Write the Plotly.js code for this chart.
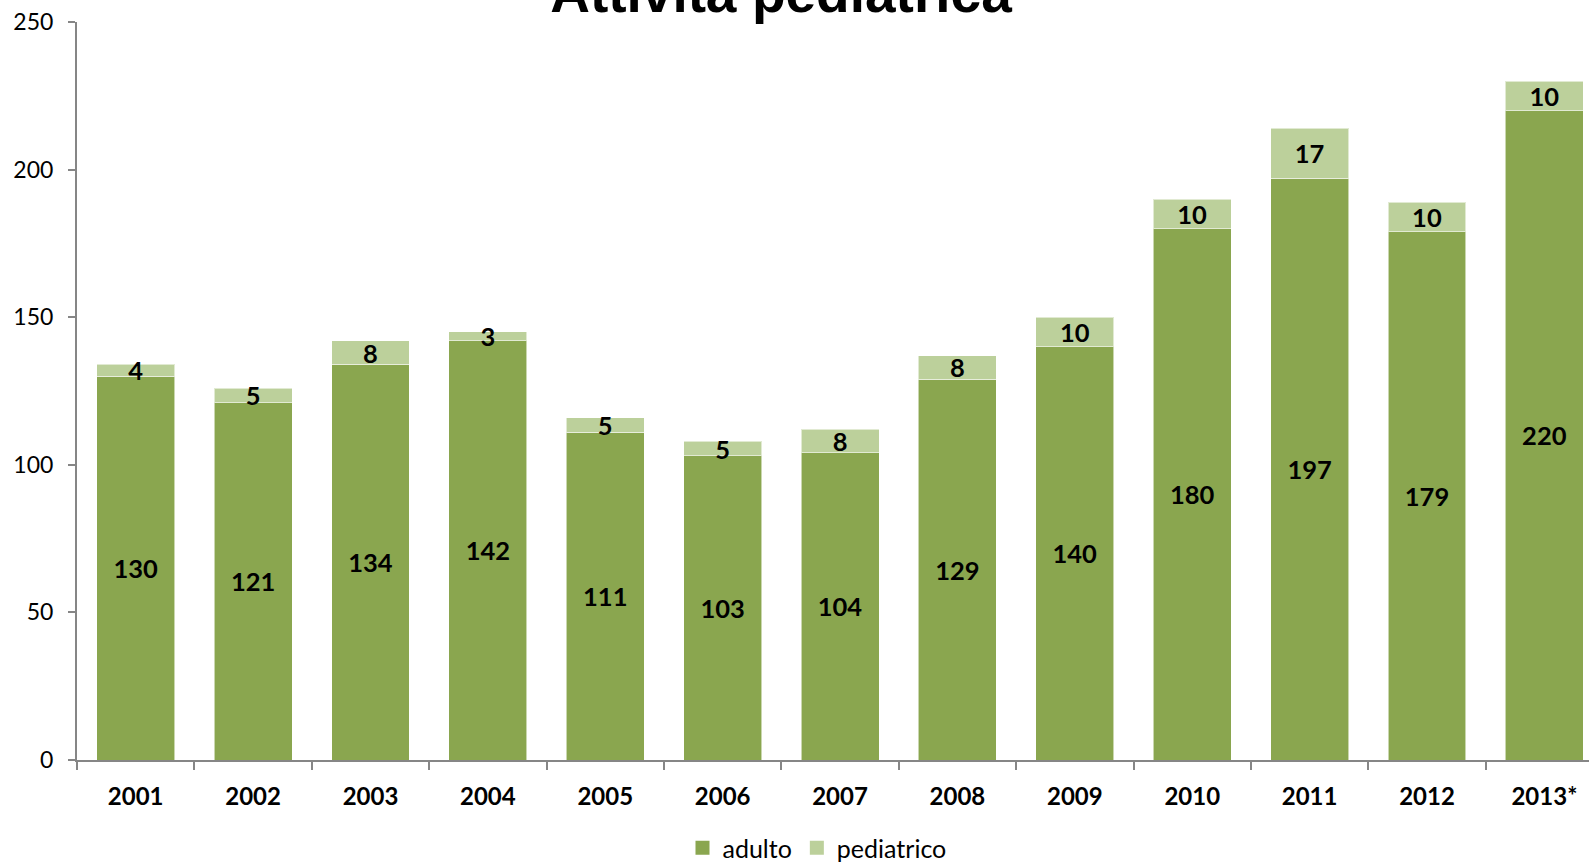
<!DOCTYPE html>
<html>
<head>
<meta charset="utf-8">
<script src="https://cdn.plot.ly/plotly-3.0.1.min.js"></script>
<style>html,body{margin:0;padding:0;background:#fff;overflow:hidden;}#chart{width:1589px;height:863px;}</style>
</head>
<body>
<div id="chart"></div>
<script>
const years = ["2001","2002","2003","2004","2005","2006","2007","2008","2009","2010","2011","2012","2013*"];
const adulto = [130,121,134,142,111,103,104,129,140,180,197,179,220];
const pediatrico = [4,5,8,3,5,5,8,8,10,10,17,10,10];
const yTicks = [0,50,100,150,200,250];
const seriesNames = ['adulto', 'pediatrico'];
const seriesColors = ['#8AA64F', '#BCD09B'];

const common = {
  type: 'bar',
  x: years,
  textposition: 'inside',
  insidetextanchor: 'middle',
  textangle: 0,
  constraintext: 'none',
  textfont: {family: 'Lato, "Open Sans", sans-serif', size: 25.5, color: '#000', weight: 'bold'},
  hoverinfo: 'skip',
  showlegend: false
};

const traces = [
  Object.assign({}, common, {
    name: seriesNames[0], y: adulto, text: adulto.map(String),
    marker: {color: seriesColors[0], line: {color: 'rgba(255,255,255,0.55)', width: 1}}
  }),
  Object.assign({}, common, {
    name: seriesNames[1], y: pediatrico, text: pediatrico.map(String),
    marker: {color: seriesColors[1], line: {color: 'rgba(255,255,255,0.55)', width: 1}}
  })
];
// legend entries with larger square swatches
seriesNames.forEach(function(n, i){
  traces.push({
    type: 'scatter', mode: 'markers', name: n,
    x: [null], y: [null],
    marker: {symbol: 'square', size: 14, color: seriesColors[i]},
    showlegend: true, hoverinfo: 'skip'
  });
});

const layout = {
  width: 1589, height: 863,
  margin: {l: 77, r: 0, t: 22, b: 103, autoexpand: false},
  barmode: 'stack',
  bargap: 0.336,
  paper_bgcolor: '#fff', plot_bgcolor: '#fff',
  showlegend: true,
  uniformtext: {mode: 'show', minsize: 25},
  font: {family: 'Lato, "Open Sans", sans-serif', color: '#000'},
  title: {
    text: '<b>Attività pediatrica</b>',
    font: {family: '"Liberation Sans", Arial, sans-serif', size: 55, color: '#000'},
    x: 781/1589, xanchor: 'center', xref: 'container',
    y: 1 - 12/863, yanchor: 'bottom', yref: 'container', pad: {t: 0, b: 0},
    automargin: false
  },
  xaxis: {
    type: 'category',
    range: [-0.5, 12.38],
    tickson: 'boundaries',
    tickangle: 0,
    automargin: false,
    ticks: 'outside', ticklen: 8, tickcolor: '#868686', tickwidth: 2,
    showline: true, linecolor: '#868686', linewidth: 2,
    showgrid: false, zeroline: false,
    tickfont: {family: 'Lato, "Open Sans", sans-serif', size: 24, color: '#000', weight: 'bold'},
    ticklabelstandoff: 14
  },
  yaxis: {
    range: [0, 250],
    tickvals: yTicks,
    ticktext: yTicks.map(String),
    automargin: false,
    ticks: 'outside', ticklen: 7, tickcolor: '#868686', tickwidth: 2,
    showline: true, linecolor: '#868686', linewidth: 2,
    showgrid: false, zeroline: false,
    tickfont: {family: 'Lato, "Open Sans", sans-serif', size: 23, color: '#000'},
    ticklabelstandoff: 10
  },
  legend: {
    orientation: 'h',
    x: (817 - 77) / 1512, xanchor: 'center',
    y: -0.1193, yanchor: 'middle',
    font: {family: 'Lato, "Open Sans", sans-serif', size: 25, color: '#000'},
    itemwidth: 30,
    traceorder: 'normal'
  }
};

Plotly.newPlot('chart', traces, layout, {displayModeBar: false, staticPlot: true});
</script>
</body>
</html>
